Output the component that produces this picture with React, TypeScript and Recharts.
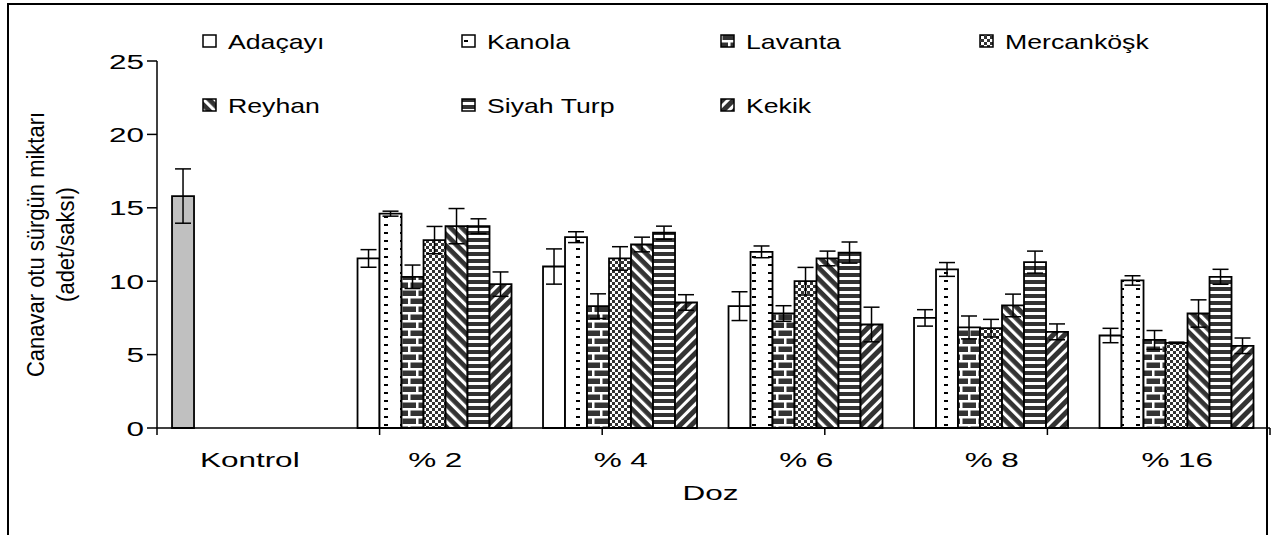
import React from 'react';
import { BarChart, Bar, XAxis, YAxis, ErrorBar, Cell, Legend, Label } from 'recharts';

// ---------- data ----------
const categories = ['Kontrol', '% 2', '% 4', '% 6', '% 8', '% 16'];
const seriesNames = ['Adaçayı', 'Kanola', 'Lavanta', 'Mercanköşk', 'Reyhan', 'Siyah Turp', 'Kekik'];

const adacayi = [15.8, 11.55, 11.0, 8.3, 7.5, 6.3];
const adacayiErr = [1.85, 0.6, 1.2, 0.98, 0.56, 0.49];
const kanola = [null, 14.6, 13.0, 12.0, 10.8, 10.05];
const kanolaErr = [null, 0.17, 0.37, 0.4, 0.47, 0.32];
const lavanta = [null, 10.3, 8.3, 7.8, 6.85, 6.0];
const lavantaErr = [null, 0.8, 0.84, 0.53, 0.78, 0.64];
const mercankosk = [null, 12.8, 11.55, 10.0, 6.8, 5.8];
const mercankoskErr = [null, 0.93, 0.8, 0.94, 0.6, 0.05];
const reyhan = [null, 13.75, 12.5, 11.55, 8.35, 7.8];
const reyhanErr = [null, 1.2, 0.5, 0.5, 0.77, 0.93];
const siyahTurp = [null, 13.75, 13.3, 11.95, 11.3, 10.3];
const siyahTurpErr = [null, 0.5, 0.45, 0.72, 0.75, 0.51];
const kekik = [null, 9.8, 8.55, 7.05, 6.55, 5.6];
const kekikErr = [null, 0.83, 0.53, 1.18, 0.54, 0.53];

const yTicks = [0, 5, 10, 15, 20, 25];
const edgeTicks = [0, 1, 2, 3, 4, 5, 6];
const yLabelLines = ['Canavar otu sürgün miktarı', '(adet/saksı)'];
const xLabel = 'Doz';

const seriesValues = [adacayi, kanola, lavanta, mercankosk, reyhan, siyahTurp, kekik];
const seriesErrors = [adacayiErr, kanolaErr, lavantaErr, mercankoskErr, reyhanErr, siyahTurpErr, kekikErr];
const seriesKeys = ['adacayi', 'kanola', 'lavanta', 'mercankosk', 'reyhan', 'siyahTurp', 'kekik'];
const seriesFills = ['#ffffff', 'url(#pKanola)', 'url(#pLavanta)', 'url(#pMerc)', 'url(#pReyhan)', 'url(#pSiyah)', 'url(#pKekik)'];
const kontrolFill = '#c0c0c0';

const data = categories.map((cat, i) => {
  const row: any = { cat };
  seriesKeys.forEach((k, s) => {
    row[k] = seriesValues[s][i];
    row[k + 'Err'] = seriesErrors[s][i];
  });
  return row;
});

const FONT = '"Liberation Sans", Arial, Helvetica, sans-serif';
const DARK = '#333333';

const Patterns = () => (
  <defs>
    <pattern id="pKanola" patternUnits="userSpaceOnUse" width="16" height="8">
      <rect width="16" height="8" fill="#fff" />
      <rect x="0" y="0" width="4" height="2" fill="#000" />
    </pattern>
    <pattern id="pLavanta" patternUnits="userSpaceOnUse" width="16" height="16">
      <rect width="16" height="16" fill={DARK} />
      <rect x="0" y="0" width="16" height="2.5" fill="#fff" />
      <rect x="0" y="8" width="16" height="2.5" fill="#fff" />
      <rect x="0" y="0" width="2.5" height="8" fill="#fff" />
      <rect x="8" y="8" width="2.5" height="8" fill="#fff" />
    </pattern>
    <pattern id="pMerc" patternUnits="userSpaceOnUse" width="6" height="6">
      <rect width="6" height="6" fill="#fff" />
      <rect x="0" y="0" width="3" height="3" fill={DARK} />
      <rect x="3" y="3" width="3" height="3" fill={DARK} />
    </pattern>
    <pattern id="pReyhan" patternUnits="userSpaceOnUse" width="8" height="8" patternTransform="rotate(-45)">
      <rect width="8" height="8" fill={DARK} />
      <rect x="0" y="0" width="3.2" height="8" fill="#fff" />
    </pattern>
    <pattern id="pKekik" patternUnits="userSpaceOnUse" width="8" height="8" patternTransform="rotate(45)">
      <rect width="8" height="8" fill={DARK} />
      <rect x="0" y="0" width="3" height="8" fill="#fff" />
    </pattern>
    <pattern id="pSiyah" patternUnits="userSpaceOnUse" width="7" height="7">
      <rect width="7" height="7" fill="#fff" />
      <rect x="0" y="0" width="7" height="4" fill={DARK} />
    </pattern>
  </defs>
);

const XTick = (props: any) => {
  const { x, y, payload } = props;
  return (
    <text transform={`translate(${x},${y}) scale(1.5,1)`} textAnchor="middle" dy="0.71em"
      fontSize={21} fontFamily={FONT} fill="#000">
      {payload.value}
    </text>
  );
};

const YTick = (props: any) => {
  const { x, y, payload } = props;
  return (
    <text transform={`translate(${x},${y}) scale(1.5,1)`} textAnchor="end" dy="0.36em"
      fontSize={21} fontFamily={FONT} fill="#000">
      {payload.value}
    </text>
  );
};

const NoTick = () => <g />;

const YAxisLabel = (props: any) => {
  const vb = props.viewBox || { x: 97, y: 61, width: 60, height: 367 };
  const cy = vb.y + vb.height / 2;
  const xs = [vb.x - 62, vb.x - 32];
  return (
    <g>
      {yLabelLines.map((t, i) => (
        <text key={t} transform={`translate(${xs[i]},${cy}) scale(1.1,1) rotate(-90)`} textAnchor="middle"
          dy="0.36em" fontSize={22} fontFamily={FONT} fill="#000">
          {t}
        </text>
      ))}
    </g>
  );
};

const XAxisLabel = (props: any) => {
  const vb = props.viewBox || { x: 157, y: 429, width: 1113, height: 30 };
  const cx = vb.x + vb.width / 2;
  return (
    <text transform={`translate(${cx - 3},${vb.y + 56}) scale(1.5,1)`} textAnchor="middle" dy="0.71em"
      fontSize={21} fontFamily={FONT} fill="#000">
      {xLabel}
    </text>
  );
};

const LegendContent = () => (
  <svg width={1273} height={130} style={{ display: 'block' }}>
    {seriesNames.map((n, i) => {
      const col = i % 4;
      const row = Math.floor(i / 4);
      const bx = 203 + col * 259;
      const cy = 41 + row * 64;
      return (
        <g key={n}>
          <rect x={bx} y={cy - 6} width={13} height={12} fill={seriesFills[i]} stroke="#000" strokeWidth={1.5} />
          <text transform={`translate(${bx + 25},${cy}) scale(1.27,1)`} dy="0.36em" fontSize={21}
            fontFamily={FONT} fill="#000">
            {n}
          </text>
        </g>
      );
    })}
  </svg>
);

export default function App() {
  return (
    <div style={{ position: 'absolute', left: 0, top: 0, width: 1273, height: 535, overflow: 'hidden', background: '#fff' }}>
      <BarChart width={1273} height={535} data={data}
        margin={{ top: 61, right: 3, bottom: 76, left: 97 }}
        barCategoryGap="8.1%" barGap={0}>
        <Patterns />
        <XAxis xAxisId="edge" type="number" domain={[0, 6]} ticks={edgeTicks} allowDataOverflow={true}
          tick={<NoTick />} tickSize={7} height={1} interval={0}
          axisLine={{ stroke: '#000', strokeWidth: 1.5 }}
          tickLine={{ stroke: '#000', strokeWidth: 1.5 }} />
        <XAxis xAxisId="main" dataKey="cat" height={30} tickLine={false} axisLine={false} tickSize={0} tickMargin={23}
          tick={<XTick />} interval={0}>
          <Label content={<XAxisLabel />} />
        </XAxis>
        <YAxis domain={[0, 25]} ticks={yTicks} width={60} tickSize={10} tickMargin={3} interval={0}
          axisLine={{ stroke: '#000', strokeWidth: 1.5 }} tickLine={{ stroke: '#000', strokeWidth: 1.5 }}
          tick={<YTick />}>
          <Label content={<YAxisLabel />} />
        </YAxis>
        <Legend verticalAlign="middle" align="center" layout="horizontal" content={<LegendContent />}
          wrapperStyle={{ position: 'absolute', top: 0, left: 0, width: 1273, height: 130 }} />
        {seriesKeys.map((k, s) => (
          <Bar key={k} xAxisId="main" dataKey={k} name={seriesNames[s]} fill={seriesFills[s]}
            stroke="#000" strokeWidth={1.8} isAnimationActive={false}>
            {s === 0 && data.map((d, i) => (
              <Cell key={i} fill={i === 0 ? kontrolFill : seriesFills[0]} stroke="#000" strokeWidth={1.8} />
            ))}
            <ErrorBar dataKey={k + 'Err'} width={8} stroke="#000" strokeWidth={1.5} direction="y" />
          </Bar>
        ))}
      </BarChart>
      <div style={{ position: 'absolute', left: 7, top: 3, width: 1261, height: 600, border: '2px solid #000', boxSizing: 'border-box', pointerEvents: 'none' }} />
    </div>
  );
}
